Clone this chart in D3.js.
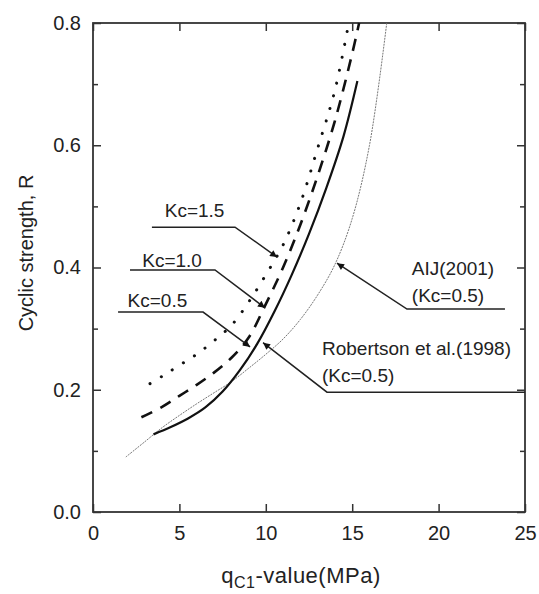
<!DOCTYPE html>
<html>
<head>
<meta charset="utf-8">
<script src="https://cdn.jsdelivr.net/npm/d3@7"></script>
<style>
  body { margin: 0; background: #fff; }
  text { font-family: "Liberation Sans", Arial, sans-serif; fill: #222; }
</style>
</head>
<body>
<svg></svg>
<script>
// --- data ---
var xTicks = [0, 5, 10, 15, 20, 25];
var yTicks = [0.0, 0.2, 0.4, 0.6, 0.8];
var yMinor = [0.1, 0.3, 0.5, 0.7];

// Kc=0.5 (solid)
var kc05X = [3.5, 4.5, 5.5, 6.5, 7.5, 8.5, 9.5, 10.5, 11.5, 12.5, 13.5, 14.5, 15.3];
var kc05R = [0.127, 0.139, 0.153, 0.171, 0.197, 0.232, 0.275, 0.328, 0.388, 0.455, 0.530, 0.615, 0.705];
// Kc=1.0 (dashed)
var kc10X = [2.8, 4, 5, 6, 7, 8, 9, 10, 11, 12, 13, 14, 15, 15.4];
var kc10R = [0.155, 0.172, 0.190, 0.208, 0.228, 0.252, 0.285, 0.340, 0.400, 0.470, 0.550, 0.640, 0.750, 0.800];
// Kc=1.5 (dotted)
var kc15X = [3.3, 4, 5, 6, 7, 8, 9, 10, 11, 12, 13, 14, 14.8];
var kc15R = [0.210, 0.222, 0.240, 0.258, 0.280, 0.305, 0.343, 0.388, 0.437, 0.505, 0.595, 0.690, 0.800];
// AIJ(2001) (thin grey)
var aijX = [1.9, 3, 4, 5, 6, 7, 8, 9, 10, 11, 12, 13, 14, 15, 16, 17];
var aijR = [0.09, 0.115, 0.138, 0.158, 0.177, 0.195, 0.213, 0.235, 0.258, 0.283, 0.315, 0.355, 0.405, 0.48, 0.60, 0.80];

// annotation leaders: [start of underline, end of underline, arrow tip] in data units
var labels = [
  {text: ["Kc=1.5"], line: [[3.41, 0.466], [8.22, 0.466], [10.65, 0.417]]},
  {text: ["Kc=1.0"], line: [[2.14, 0.396], [7.06, 0.396], [9.95, 0.334]]},
  {text: ["Kc=0.5"], line: [[1.45, 0.327], [6.37, 0.327], [9.09, 0.270]]},
  {text: ["AIJ(2001)", "(Kc=0.5)"], line: [[23.84, 0.332], [18.17, 0.332], [14.12, 0.407]]},
  {text: ["Robertson et al.(1998)", "(Kc=0.5)"], line: [[25, 0.196], [13.54, 0.196], [9.84, 0.277]]}
];
var labelPos = [[4.15, 0.482], [2.85, 0.401], [2.0, 0.3355], [18.45, 0.388], [13.25, 0.257]];

var W = 539, H = 594;
var m = {left: 93, top: 23, right: 14, bottom: 82};

var svg = d3.select("svg").attr("width", W).attr("height", H);

var x = d3.scaleLinear().domain([0, 25]).range([m.left, W - m.right]);
var y = d3.scaleLinear().domain([0, 0.8]).range([H - m.bottom, m.top]);

svg.append("defs").append("marker")
    .attr("id", "arr")
    .attr("viewBox", "0 0 10 10")
    .attr("refX", 10).attr("refY", 5)
    .attr("markerWidth", 9).attr("markerHeight", 7)
    .attr("markerUnits", "userSpaceOnUse")
    .attr("orient", "auto")
    .append("path").attr("d", "M0,0L10,5L0,10z").attr("fill", "#111");

// axes (ticks inward, mirrored)
var axisColor = "#333";
function styleAxis(g) {
    g.select(".domain").remove();
    g.selectAll("line").attr("stroke", axisColor).attr("stroke-width", 1.5);
}
svg.append("g").attr("transform", "translate(0," + y(0) + ")")
    .call(d3.axisBottom(x).tickValues(xTicks).tickSize(-8).tickPadding(14).tickFormat(d3.format("d")))
    .call(styleAxis)
    .selectAll("text").attr("font-size", 20).attr("fill", "#222");
svg.append("g").attr("transform", "translate(0," + y(0.8) + ")")
    .call(d3.axisTop(x).tickValues(xTicks).tickSize(-8).tickFormat(""))
    .call(styleAxis);
svg.append("g").attr("transform", "translate(" + x(0) + ",0)")
    .call(d3.axisLeft(y).tickValues(yTicks).tickSize(-8).tickPadding(12).tickFormat(d3.format(".1f")))
    .call(styleAxis)
    .selectAll("text").attr("font-size", 20).attr("fill", "#222");
svg.append("g").attr("transform", "translate(" + x(0) + ",0)")
    .call(d3.axisLeft(y).tickValues(yMinor).tickSize(-5).tickFormat(""))
    .call(styleAxis);
svg.append("g").attr("transform", "translate(" + x(25) + ",0)")
    .call(d3.axisRight(y).tickValues(yTicks).tickSize(-8).tickFormat(""))
    .call(styleAxis);
svg.append("g").attr("transform", "translate(" + x(25) + ",0)")
    .call(d3.axisRight(y).tickValues(yMinor).tickSize(-5).tickFormat(""))
    .call(styleAxis);

svg.append("rect")
    .attr("x", x(0)).attr("y", y(0.8))
    .attr("width", x(25) - x(0)).attr("height", y(0) - y(0.8))
    .attr("fill", "none").attr("stroke", axisColor).attr("stroke-width", 1.8);

// curves
var line = d3.line().x(function(d) { return x(d[0]); }).y(function(d) { return y(d[1]); })
    .curve(d3.curveCatmullRom.alpha(0.5));
function pts(xs, rs) { return xs.map(function(v, i) { return [v, rs[i]]; }); }

var series = [
  {d: pts(aijX, aijR), stroke: "#777", width: 1, dash: "2,1"},
  {d: pts(kc05X, kc05R), stroke: "#111", width: 2.2, dash: null},
  {d: pts(kc10X, kc10R), stroke: "#111", width: 2.6, dash: "12,9"},
  {d: pts(kc15X, kc15R), stroke: "#111", width: 3, dash: "0.1,13", cap: "round"}
];
svg.selectAll("path.curve")
    .data(series)
    .enter()
    .append("path")
    .attr("class", "curve")
    .attr("d", function(s) { return line(s.d); })
    .attr("fill", "none")
    .attr("stroke", function(s) { return s.stroke; })
    .attr("stroke-width", function(s) { return s.width; })
    .attr("stroke-dasharray", function(s) { return s.dash; })
    .attr("stroke-linecap", function(s) { return s.cap || "butt"; });

// annotations
svg.selectAll("polyline.lead")
    .data(labels)
    .enter()
    .append("polyline")
    .attr("class", "lead")
    .attr("points", function(l) {
        return l.line.map(function(p) { return x(p[0]) + "," + y(p[1]); }).join(" ");
    })
    .attr("fill", "none")
    .attr("stroke", "#222")
    .attr("stroke-width", 1.5)
    .attr("marker-end", "url(#arr)");

labels.forEach(function(l, i) {
    var t = svg.append("text")
        .attr("x", x(labelPos[i][0]))
        .attr("y", y(labelPos[i][1]))
        .attr("font-size", 19);
    l.text.forEach(function(s, j) {
        t.append("tspan").attr("x", x(labelPos[i][0])).attr("dy", j === 0 ? 0 : 27).text(s);
    });
});

// axis titles
svg.append("text")
    .attr("transform", "translate(33,253) rotate(-90)")
    .attr("text-anchor", "middle")
    .attr("font-size", 20)
    .text("Cyclic strength, R");

var xt = svg.append("text")
    .attr("x", 301).attr("y", 583)
    .attr("text-anchor", "middle")
    .attr("font-size", 22)
    .attr("letter-spacing", 0.5);
xt.append("tspan").text("q");
xt.append("tspan").attr("font-size", 16).attr("dy", 5).text("C1");
xt.append("tspan").attr("dy", -5).text("-value(MPa)");
</script>
</body>
</html>
